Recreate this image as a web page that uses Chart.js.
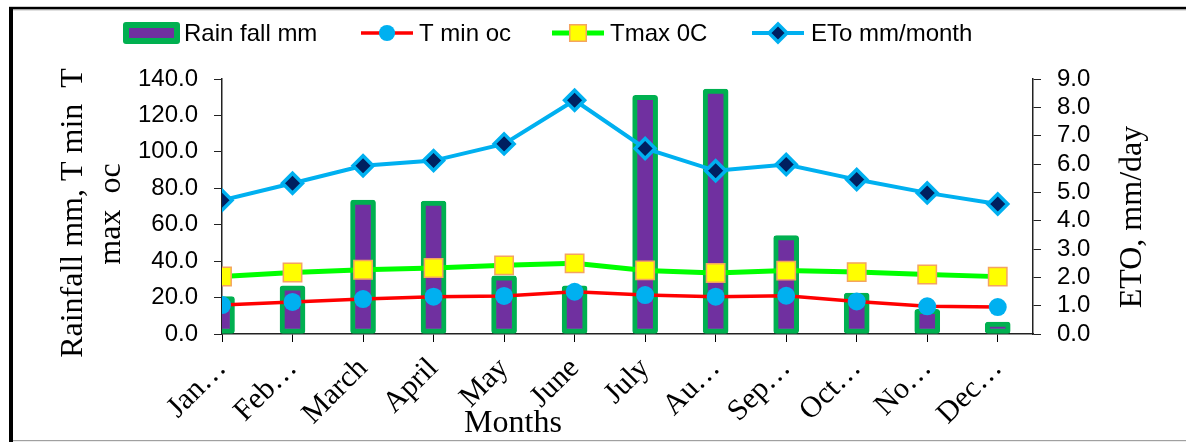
<!DOCTYPE html>
<html>
<head>
<meta charset="utf-8">
<script src="https://cdn.jsdelivr.net/npm/chart.js@4.4.1/dist/chart.umd.min.js"></script>
<style>
  html, body { margin: 0; padding: 0; background: #fff; }
  #wrap { width: 1186px; height: 442px; }
</style>
</head>
<body>
<div id="wrap"><canvas id="chart" width="1186" height="442"></canvas></div>
<script>
// month labels as shown on the axis
const months = ['Jan…', 'Feb…', 'March', 'April', 'May', 'June', 'July', 'Au…', 'Sep…', 'Oct…', 'No…', 'Dec…'];

// series values
const rainfall = [20.5, 26.5, 73.5, 73.0, 32.0, 26.5, 131.0, 134.5, 54.0, 22.5, 13.5, 6.5];
const tMin = [15.9, 17.6, 19.2, 20.5, 20.9, 23.2, 21.4, 20.5, 21.0, 17.9, 15.2, 14.8];
const tMax = [31.6, 33.8, 35.3, 36.2, 37.7, 38.8, 34.9, 33.5, 34.8, 34.0, 32.7, 31.5];
const eto = [4.72, 5.32, 5.94, 6.12, 6.71, 8.25, 6.55, 5.76, 5.98, 5.45, 4.98, 4.59];

// axis ranges
const leftMax = 140, leftStep = 20;
const rightMax = 9, rightStep = 1;

const serif = '"Liberation Serif", "Times New Roman", serif';
const sans = '"Liberation Sans", Arial, sans-serif';

const pts = arr => arr.map((v, i) => ({ x: i, y: v }));

const framePlugin = {
    id: 'frame',
    beforeDraw(chart) {
        const ctx = chart.ctx;
        ctx.save();
        ctx.fillStyle = '#fff';
        ctx.fillRect(0, 0, chart.width, chart.height);
        ctx.fillStyle = '#000';
        ctx.fillRect(9, 7, 4, chart.height - 7);
        ctx.fillRect(9, 6.8, chart.width - 9, 2.5);
        ctx.fillStyle = '#999';
        ctx.fillRect(13, 9.3, chart.width - 13, 1);
        ctx.fillStyle = '#a0a0a0';
        ctx.fillRect(13, 440, chart.width - 13, 1.2);
        ctx.restore();
    }
};

const titlePlugin = {
    id: 'titles',
    afterDraw(chart) {
        const ctx = chart.ctx;
        ctx.save();
        ctx.fillStyle = '#000';
        ctx.font = '32px ' + serif;
        ctx.textAlign = 'center';
        ctx.textBaseline = 'middle';

        ctx.save();
        ctx.translate(74, 213);
        ctx.rotate(-Math.PI / 2);
        ctx.fillText('Rainfall mm, T min  T', 0, 0);
        ctx.restore();

        ctx.save();
        ctx.translate(112, 214);
        ctx.rotate(-Math.PI / 2);
        ctx.fillText('max  oc', 0, 0);
        ctx.restore();

        ctx.save();
        ctx.translate(1133, 217);
        ctx.rotate(-Math.PI / 2);
        ctx.fillText('ETO, mm/day', 0, 0);
        ctx.restore();

        ctx.textBaseline = 'alphabetic';
        ctx.fillText('Months', 513, 432);
        ctx.restore();
    }
};

const legendPlugin = {
    id: 'customLegend',
    afterDraw(chart) {
        const ctx = chart.ctx;
        const ds = chart.data.datasets;
        const y = 33;
        ctx.save();
        ctx.font = '24px ' + sans;
        ctx.textBaseline = 'middle';
        ctx.fillStyle = '#000';

        // bar item
        const bar = ds[0];
        ctx.fillStyle = bar.borderColor;
        ctx.beginPath();
        ctx.roundRect(123, y - 11, 57, 22, 3);
        ctx.fill();
        ctx.fillStyle = bar.backgroundColor;
        ctx.fillRect(129, y - 5, 45, 10);
        ctx.fillStyle = '#000';
        ctx.fillText(bar.label, 184, y + 1);

        const items = [
            { d: ds[1], x0: 361, x1: 413, tx: 419 },
            { d: ds[2], x0: 552, x1: 604, tx: 610 },
            { d: ds[3], x0: 752, x1: 804, tx: 811 }
        ];
        items.forEach(it => {
            const d = it.d;
            ctx.strokeStyle = d.borderColor;
            ctx.lineWidth = d.borderWidth;
            ctx.beginPath();
            ctx.moveTo(it.x0, y);
            ctx.lineTo(it.x1, y);
            ctx.stroke();
            ctx.fillStyle = d.pointBackgroundColor;
            ctx.strokeStyle = d.pointBorderColor;
            ctx.lineWidth = d.pointBorderWidth;
            Chart.helpers.drawPoint(ctx, {
                pointStyle: d.pointStyle,
                radius: d.pointRadius * 0.9,
                rotation: 0,
                borderWidth: d.pointBorderWidth
            }, (it.x0 + it.x1) / 2, y);
            ctx.fillStyle = '#000';
            ctx.fillText(d.label, it.tx, y + 1);
        });
        ctx.restore();
    }
};

new Chart(document.getElementById('chart'), {
    data: {
        datasets: [
            {
                type: 'bar',
                label: 'Rain fall mm',
                data: pts(rainfall),
                yAxisID: 'y',
                backgroundColor: '#7030A0',
                borderColor: '#00B050',
                borderWidth: 5,
                borderRadius: 3,
                borderSkipped: false,
                barThickness: 25,
                clip: { left: 0, top: false, right: false, bottom: 0 },
                order: 5
            },
            {
                type: 'line',
                label: 'T min oc',
                data: pts(tMin),
                yAxisID: 'y',
                borderColor: '#FF0000',
                borderWidth: 3.5,
                pointStyle: 'circle',
                pointRadius: 9,
                pointBackgroundColor: '#00B0F0',
                pointBorderColor: '#00B0F0',
                pointBorderWidth: 0,
                order: 0
            },
            {
                type: 'line',
                label: 'Tmax 0C',
                data: pts(tMax),
                yAxisID: 'y',
                borderColor: '#00FF00',
                borderWidth: 5,
                pointStyle: 'rect',
                pointRadius: 13,
                pointBackgroundColor: '#FFFF00',
                pointBorderColor: '#F4A460',
                pointBorderWidth: 1.5,
                order: 0
            },
            {
                type: 'line',
                label: 'ETo mm/month',
                data: pts(eto),
                yAxisID: 'y1',
                borderColor: '#00B0F0',
                borderWidth: 4,
                pointStyle: 'rectRot',
                pointRadius: 10,
                pointBackgroundColor: '#002060',
                pointBorderColor: '#00B0F0',
                pointBorderWidth: 3.5,
                order: 0
            }
        ]
    },
    options: {
        responsive: false,
        animation: false,
        devicePixelRatio: 1,
        layout: { padding: { top: 79, left: 0, right: 0, bottom: 0 } },
        plugins: { legend: { display: false }, tooltip: { enabled: false } },
        elements: { line: { tension: 0 } },
        scales: {
            x: {
                type: 'linear',
                position: 'bottom',
                offset: false,
                min: 0,
                max: 11.5,
                afterFit: s => { s.height = 108; },
                grid: { drawOnChartArea: false, offset: false, color: '#000', tickLength: 8 },
                border: { color: '#222', width: 1.5 },
                afterBuildTicks: s => { s.ticks = s.ticks.filter(t => Number.isInteger(t.value)); },
                ticks: {
                    stepSize: 1,
                    includeBounds: false,
                    autoSkip: false,
                    maxRotation: 45,
                    minRotation: 45,
                    padding: 9,
                    color: '#000',
                    font: { family: serif, size: 30 },
                    callback: v => months[v] ?? ''
                }
            },
            y: {
                position: 'left',
                min: 0,
                max: leftMax,
                afterFit: s => { s.width = 222; },
                grid: { drawOnChartArea: false, color: '#222', tickLength: 8 },
                border: { color: '#222', width: 1.5 },
                ticks: {
                    stepSize: leftStep,
                    autoSkip: false,
                    padding: 16,
                    color: '#000',
                    font: { family: sans, size: 24 },
                    callback: v => v.toFixed(1)
                }
            },
            y1: {
                position: 'right',
                min: 0,
                max: rightMax,
                afterFit: s => { s.width = 153; },
                grid: { drawOnChartArea: false, color: '#222', tickLength: 8 },
                border: { color: '#222', width: 1.5 },
                ticks: {
                    stepSize: rightStep,
                    autoSkip: false,
                    padding: 16,
                    color: '#000',
                    font: { family: sans, size: 24 },
                    callback: v => v.toFixed(1)
                }
            }
        }
    },
    plugins: [framePlugin, titlePlugin, legendPlugin]
});
</script>
</body>
</html>
